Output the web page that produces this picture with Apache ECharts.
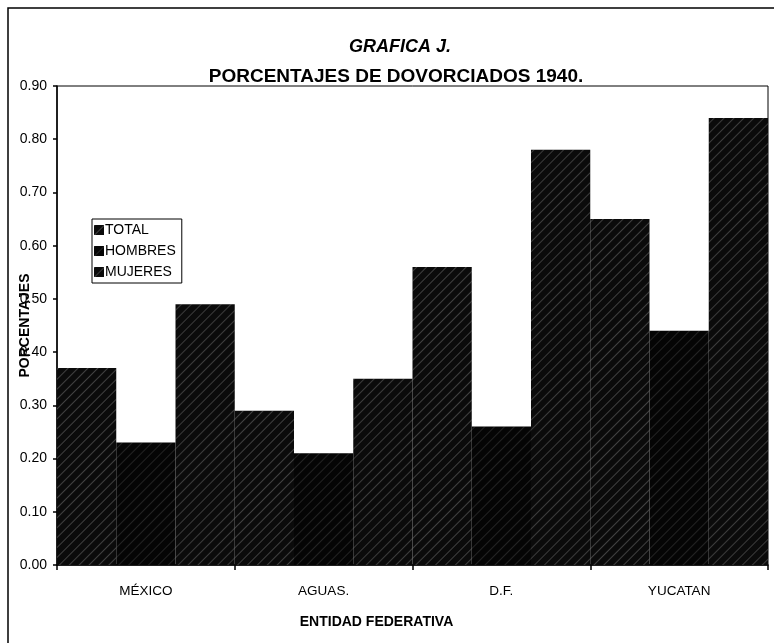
<!DOCTYPE html>
<html>
<head>
<meta charset="utf-8">
<script src="https://cdn.jsdelivr.net/npm/echarts@6/dist/echarts.min.js"></script>
<style>
html,body{margin:0;padding:0;background:#fff;}
#grafica{width:774px;height:643px;}
</style>
</head>
<body>
<div id="grafica"></div>
<script>
var entidades = ['MÉXICO', 'AGUAS.', 'D.F.', 'YUCATAN']
var total = [0.37, 0.29, 0.56, 0.65]
var hombres = [0.23, 0.21, 0.26, 0.44]
var mujeres = [0.49, 0.35, 0.78, 0.84]

function rayado(op){
    return {
        symbol: 'rect',
        color: 'rgba(255,255,255,' + op + ')',
        dashArrayX: [1, 0],
        dashArrayY: [1, 6],
        rotation: -Math.PI / 4
    }
}

var fuente = '"Liberation Sans", Arial, sans-serif'
var option = {
    backgroundColor: '#fff',
    textStyle: {fontFamily: fuente, color: '#000'},
    title: [{
        text: 'GRAFICA J.',
        left: 395, top: 33, textAlign: 'center',
        textStyle: {fontFamily: fuente, fontSize: 18, fontWeight: 'bold', fontStyle: 'italic', color: '#000'}
    }, {
        text: 'PORCENTAJES DE DOVORCIADOS 1940.',
        left: 391, top: 62, textAlign: 'center',
        textStyle: {fontFamily: fuente, fontSize: 19, fontWeight: 'bold', color: '#000'}
    }],
    graphic: [{
        type: 'rect',
        shape: {x: 8, y: 8, width: 800, height: 700},
        style: {fill: 'none', stroke: '#000', lineWidth: 1.5}
    }],
    legend: {
        orient: 'vertical',
        left: 92, top: 219,
        icon: 'rect',
        itemWidth: 10, itemHeight: 10, itemGap: 7,
        padding: [4, 6, 4, 2],
        borderColor: '#000', borderWidth: 1,
        textStyle: {fontFamily: fuente, fontSize: 14, color: '#000', padding: [0, 0, 0, -4]},
        data: ['TOTAL', 'HOMBRES', 'MUJERES']
    },
    grid: {left: 57, right: 6, top: 86, bottom: 78, show: true, borderColor: '#000', borderWidth: 1,
        outerBoundsMode: 'none', containLabel: false},
    xAxis: {
        type: 'category',
        data: entidades,
        name: 'ENTIDAD FEDERATIVA',
        nameLocation: 'middle',
        nameGap: 50,
        nameMoveOverlap: false,
        nameTextStyle: {fontFamily: fuente, fontSize: 14, fontWeight: 'bold', color: '#000', padding: [0, 72, 0, 0]},
        axisLine: {lineStyle: {color: '#000', width: 1.5}},
        axisTick: {show: true, length: 5, lineStyle: {color: '#000', width: 1.5}},
        axisLabel: {fontFamily: fuente, fontSize: 13.5, color: '#000', margin: 19}
    },
    yAxis: {
        type: 'value',
        min: 0, max: 0.9, interval: 0.1,
        name: 'PORCENTAJES',
        nameLocation: 'middle',
        nameGap: 25,
        nameMoveOverlap: false,
        nameRotate: 90,
        nameTextStyle: {fontFamily: fuente, fontSize: 14, fontWeight: 'bold', color: '#000', padding: [0, 0, 0, 0]},
        axisLine: {show: true, lineStyle: {color: '#000', width: 1.5}},
        axisTick: {show: true, length: 4, lineStyle: {color: '#000', width: 1.5}},
        splitLine: {show: false},
        axisLabel: {fontFamily: fuente, fontSize: 14, color: '#000', margin: 10,
            formatter: function(v){ return v.toFixed(2) }}
    },
    series: [{
        name: 'TOTAL', type: 'bar', data: total,
        barGap: '0%', barCategoryGap: '0%',
        itemStyle: {color: '#0b0b0b', decal: rayado(0.22)}
    }, {
        name: 'HOMBRES', type: 'bar', data: hombres,
        itemStyle: {color: '#050505', decal: rayado(0.12)}
    }, {
        name: 'MUJERES', type: 'bar', data: mujeres,
        itemStyle: {color: '#0b0b0b', decal: rayado(0.2)}
    }]
}

var myChart = echarts.init(document.getElementById('grafica'))
myChart.setOption(option)
</script>
</body>
</html>
